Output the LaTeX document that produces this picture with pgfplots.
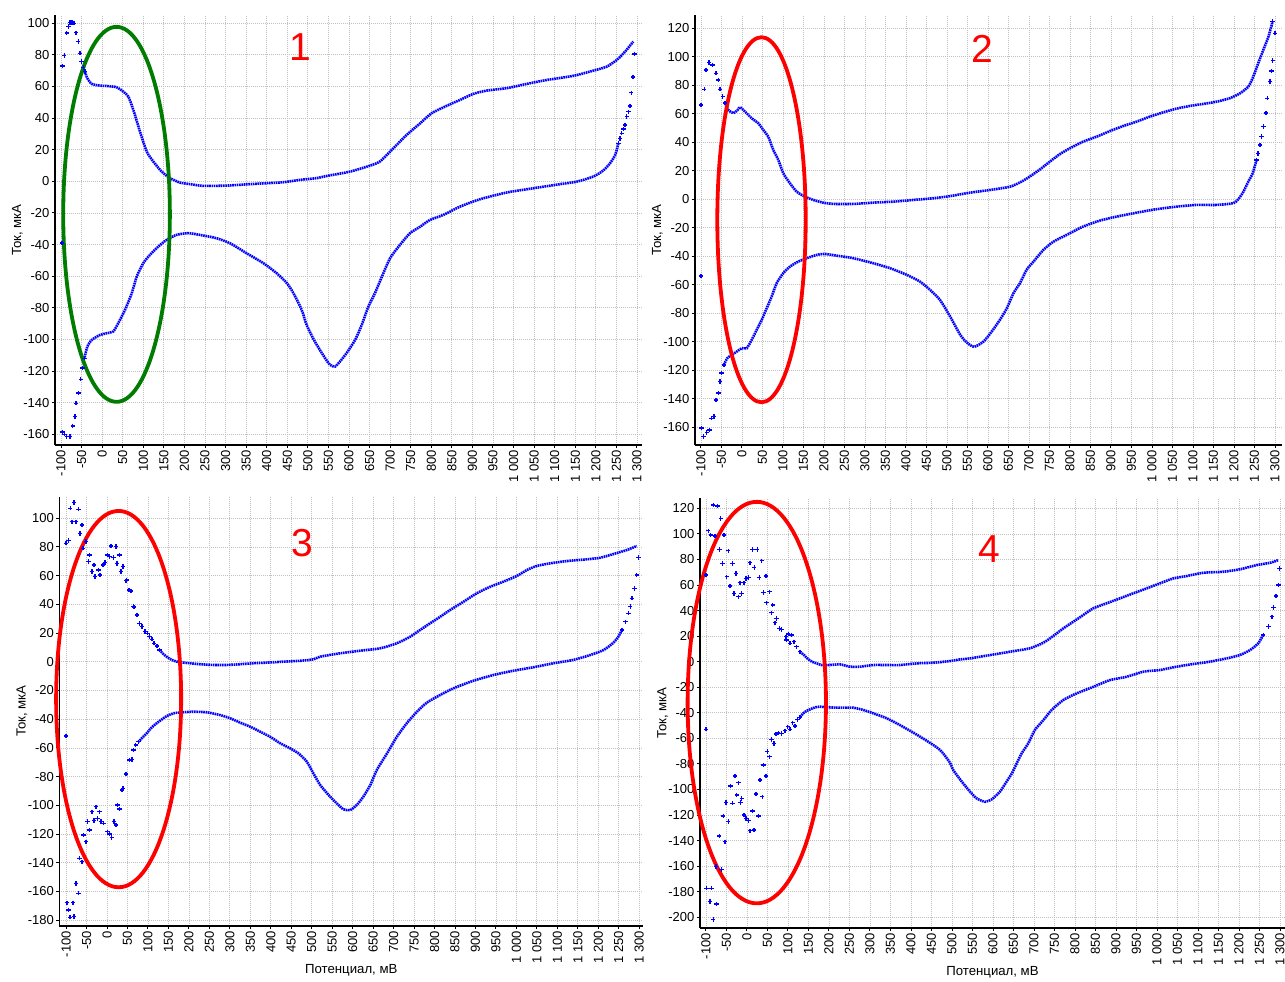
\documentclass[border=0pt]{standalone}
\usepackage{fontspec}
\setmainfont{Liberation Sans}
\usepackage{pgfplots}
\pgfplotsset{compat=1.18}
\definecolor{cvblue}{RGB}{0,0,255}
\definecolor{cvgreen}{RGB}{0,125,0}
\definecolor{cvred}{RGB}{255,0,0}
\tikzset{num/.style={cvred, font=\fontsize{19.5}{20}\selectfont}}
\pgfplotsset{
 cv/.style={
  scale only axis,
  axis x line*=bottom, axis y line*=left,
  axis line style={line width=0.6pt,-},
  tick align=outside, major tick length=1.6pt,
  tick style={line width=0.5pt, black},
  xtick={-100,-50,...,1300},
  grid=major, grid style={gray!50, line width=0.4pt, dash pattern=on 0.5pt off 0.5pt},
  tick label style={font=\fontsize{6.5}{7}\selectfont},
  xticklabel style={rotate=90, anchor=east, inner sep=0.8pt},
  yticklabel style={inner sep=1pt},
  /pgf/number format/assume math mode=true,
  /pgf/number format/1000 sep={\ },
  ylabel={Ток, мкА},
  ylabel style={at={(axis description cs:-0.064,0.5)}, anchor=center},
  xlabel style={at={(axis description cs:0.5,-0.102)}, anchor=center},
  label style={font=\fontsize{6.6}{8}\selectfont},
  clip=false,
 },
 cvline/.style={cvblue, line width=1.3pt, dash pattern=on 0.8pt off 0.35pt, smooth, tension=0.4, mark=none},
 cvmark/.style={cvblue, only marks, mark=+, mark size=1.1pt, mark options={cvblue, line width=0.7pt, solid}},
}
\begin{document}
\begin{tikzpicture}
\useasboundingbox (0,0) rectangle (642.5pt,490.5pt);
% ---------------- Panel 1 ----------------
\begin{axis}[cv, at={(27.5pt,268pt)}, anchor=south west, width=293.5pt, height=215pt,
  xmin=-114.6, xmax=1312.2, ymin=-166.8, ymax=105.2, ytick={-160,-140,...,100}]
\addplot[cvmark] coordinates {(-98,-39) (-96,73) (-92,79.5) (-86,93.7) (-82,98) (-78,100.4) (-73,100.5) (-68,100) (-63.5,94) (-58,88.4) (-54,81) (-50,75.7) (-46,72) (-41.6,69.4)};
\addplot[cvline] coordinates {(-41.6,69.4) (-36,65.2) (-25,61.6) (-5,60.5) (11,60.3) (35,59.5) (51.5,56.7) (63.6,53.6) (75.8,45.2) (92,31.4) (108.4,18.8) (124.4,12.5) (144.8,6.1) (165,2) (189,-0.8) (214,-1.8) (246,-2.9) (303,-2.7) (359,-1.8) (400,-1.2) (440,-0.6) (481,0.9) (521,2) (546,3.4) (602,6.1) (651,9.9) (675,12.5) (700,18.8) (740,29.3) (773,36.7) (801,43.1) (837,47.7) (870,51.5) (902,55.3) (935,57.4) (983,58.9) (1032,61.6) (1081,64.1) (1145,66.7) (1194,70) (1226,72.5) (1251,76.8) (1271,82) (1291,88.4)};
\addplot[cvmark] coordinates {(1293.5,80.6) (1290,66) (1286,56) (1283,47.7) (1279,44) (1275,40.9) (1271,35.7) (1267,33) (1263,30.4) (1259,27) (1255,24.1)};
\addplot[cvline] coordinates {(1255,24.1) (1247,16.7) (1234.5,11.4) (1218,6.8) (1194,3) (1154,-0.2) (1113,-1.8) (1048,-4.4) (983,-7.1) (919,-11.3) (870,-16) (829,-21.3) (797,-24.4) (773,-28.7) (748,-32.9) (724,-40.2) (700,-48.6) (680,-60.3) (663,-70.8) (647,-79.3) (631,-90.8) (615,-100.3) (594,-108.7) (578,-114) (566,-117.2) (554,-116.1) (542,-111.9) (517,-101.4) (497,-90.8) (485,-81.3) (465,-70.8) (449,-64.4) (424,-58.1) (392,-51.8) (351,-45.5) (311,-39.2) (278,-36) (246,-34.3) (210,-32.8) (181,-33.9) (157,-37) (136.5,-41.3) (116,-46.6) (100,-51.8) (84,-60.3) (72,-70.8) (55.6,-81.3) (39,-89.8) (27,-95) (11,-96.1) (-5,-97.2) (-25,-100.3) (-36,-104.5) (-43,-111.9)};
\addplot[cvmark] coordinates {(-43,-111.9) (-48,-118.2) (-52,-125.2) (-57,-134) (-63.5,-140.4) (-66,-148.8) (-71.5,-154.7) (-78,-161.5) (-86,-161.5) (-92,-160) (-96,-158.7)};
\draw[cvgreen, line width=1.9pt] (axis cs:35,-20.9) ellipse [x radius=129.6, y radius=118.6];
\node[num] at (axis cs:481,85) {1};
\end{axis}
% ---------------- Panel 2 ----------------
\begin{axis}[cv, at={(347.5pt,268pt)}, anchor=south west, width=293.5pt, height=215pt,
  xmin=-114.6, xmax=1317.1, ymin=-172.5, ymax=129.3, ytick={-160,-140,...,120}]
\addplot[cvmark] coordinates {(-100,-53.8) (-100,66.2) (-92,77.2) (-88,90.7) (-80,95.9) (-71.5,94.2) (-63.4,88.4) (-57.8,83.7) (-53.7,77.2) (-47,72) (-41.5,67.4)};
\addplot[cvline] coordinates {(-41.5,67.4) (-33.4,62.7) (-21.2,60.4) (-10.5,62.7) (-4.9,64.6) (7.3,61.5) (23.7,56.8) (39.8,53.3) (52,48.6) (64.1,43.9) (76.3,34.6) (88.5,27.6) (100.7,18.2) (117,11.2) (133.4,5.3) (153.7,1.8) (174,-0.5) (198,-2.4) (223,-3.3) (271.5,-3.3) (320,-2.4) (369,-1.7) (418,-0.5) (467,0.7) (510,2.3) (556,4.6) (605,6.5) (654,8.8) (682,12.4) (702,15.9) (727,21) (751,26.4) (776,31.8) (800,35.8) (832,40.4) (865,43.9) (898,47.9) (930,51.4) (963,54.5) (995,58) (1028,61) (1060,63.6) (1093,65.5) (1125,66.9) (1158,68.5) (1190,70.9) (1215,74.4) (1235,79) (1247,86) (1259,95.4) (1271.5,104.8) (1284,114.1) (1294,124.6)};
\addplot[cvmark] coordinates {(1294,124.6) (1300,116.5) (1294.4,97.3) (1291,90) (1288,82.5) (1281,70.9) (1278,60.4) (1271.5,51) (1267,44) (1263.4,38.1) (1259,32) (1255,27.6)};
\addplot[cvline] coordinates {(1255,27.6) (1245.6,18.2) (1235,12.4) (1223,5.3) (1210.5,0) (1198,-2.8) (1158,-4) (1109,-4) (1060,-5.2) (1011,-7) (963,-9.4) (914,-12.2) (873,-15) (832,-19.2) (792,-25) (759.5,-29.8) (735,-35.6) (711,-43.8) (694,-49.6) (678,-58.9) (662,-66) (646,-76.5) (629,-84.7) (609,-92.9) (589,-99.9) (566,-103.6) (548,-100.5) (532,-95) (507,-82) (483,-70.7) (458.5,-63.6) (434,-57.8) (402,-53.1) (361,-48.4) (320,-44.9) (271.5,-41.4) (231,-39.6) (202,-38.4) (182,-39.1) (158,-41.4) (137,-43.8) (117,-47.3) (100.7,-51.9) (84.6,-58.9) (72.4,-68.3) (60.3,-76.5) (48.1,-84.7) (35.9,-91.7) (23.7,-98.7) (11.5,-104.6) (-0.7,-104.6) (-13,-107) (-25.2,-109.3) (-35.9,-111.6) (-44,-116.3)};
\addplot[cvmark] coordinates {(-44,-116.3) (-49.6,-122) (-53.7,-128) (-57,-136.1) (-63.4,-140.8) (-68.3,-152.6) (-73.9,-153.7) (-79.5,-161.9) (-86,-163.8) (-94,-166.6) (-98.4,-160.7)};
\draw[cvred, line width=1.9pt] (axis cs:47.6,-14.4) ellipse [x radius=107.8, y radius=128.1];
\node[num] at (axis cs:586.6,105.5) {2};
\end{axis}
% ---------------- Panel 3 ----------------
\begin{axis}[cv, at={(29.7pt,27.5pt)}, anchor=south west, width=291.9pt, height=214.7pt,
  xmin=-116.4, xmax=1309.7, ymin=-184.1, ymax=115.1, ytick={-180,-160,...,100},
  xlabel={Потенциал, мВ}]
\addplot[cvmark] coordinates {(-100,-51.7) (-100,82.6) (-94.4,84.4) (-90,107) (-80.5,110.9) (-86,97.6) (-75.6,97.6) (-70,106.3) (-65.8,89.5) (-61,95.3) (-59.2,79.1) (-51.1,83.7) (-45.5,69.8) (-43,74.4) (-37.2,62.8) (-31.6,67.5) (-29.1,59.3) (-21,64) (-16.9,60.5) (-10.3,67.5) (-4.7,69.1) (0.9,74.4) (5.8,73.2) (9.9,80.7) (15.6,72.6) (21.4,80.2) (23.9,68.6) (30.2,74.4) (33.6,62.8) (38.5,66.3) (46.6,56.5) (48,57) (53.9,50) (58.8,49.3) (64.4,38.4) (66,38) (72.7,32.6) (79.1,26.8) (84.9,24.5) (93,21) (98.6,19.9) (103.5,17.5) (109.4,15.7) (115,12.9) (121.6,11) (127.9,8.2)};
\addplot[cvline] coordinates {(127.9,8.2) (137.7,5.4) (147.5,3.1) (158.2,1.3) (170.4,0.1) (186.6,-0.6) (203,-1) (227.4,-1.7) (260,-2.2) (292.6,-2.2) (325,-1.7) (357.6,-1) (390,-0.6) (431,0.1) (472,0.7) (504,1.7) (521,3.6) (569,5.9) (618,7.7) (667,9.4) (708,12.9) (740.5,17.5) (765,22.2) (789,26.8) (814,31.4) (838,36.1) (871,41.9) (903,47.7) (936,52.3) (968,55.8) (1001,59.8) (1026,64) (1050,66.8) (1082.5,68.6) (1123,70.2) (1172,71.4) (1205,72.5) (1237,75.1) (1270,77.9) (1294,80.7)};
\addplot[cvmark] coordinates {(1298,72.8) (1294,60.5) (1288,51.2) (1282,44.3) (1278,38.4) (1274,33.8) (1266,27.9) (1258,22.2)};
\addplot[cvline] coordinates {(1258,22.2) (1249,17.5) (1237,13.3) (1213,8.2) (1180,4.7) (1139,1.3) (1091,-1) (1042,-3.8) (993,-6.2) (944,-9.2) (895,-13.2) (846,-18.5) (814,-23.1) (781,-28.5) (757,-34.8) (732,-42.9) (708,-52.2) (684,-63.8) (659,-75.4) (643,-85.9) (626,-94) (610,-99.8) (594,-103.3) (577.5,-102.8) (561,-98.6) (545,-94) (521,-86) (504,-77.7) (488,-69.6) (467.5,-63.8) (447,-60.3) (423,-56.8) (398,-52.2) (374,-48.7) (349.5,-45.2) (325,-42.4) (301,-39.4) (276,-37.1) (244,-35.2) (211,-34.8) (183,-35.2) (162,-35.9) (146,-37.8) (134,-40.1) (123,-42.4) (113,-44.7) (105,-47) (97,-49.8) (87,-52.6) (77,-55.7)};
\addplot[cvmark] coordinates {(77,-55.7) (70,-58) (64.4,-61.5) (60.5,-68) (54.6,-68.4) (46.5,-78.2) (38.5,-88.2) (36.1,-89.3) (25.3,-99.8) (30.2,-102.6) (17.3,-111.4) (22.2,-113.7) (11.6,-122.3) (5.8,-120) (0.9,-118.4) (-8.9,-112.5) (-15.2,-111.4) (-18.6,-104.5) (-23.5,-109.1) (-27.4,-101) (-31.6,-110.7) (-37.2,-104.5) (-43.1,-117.2) (-48,-111.4) (-51.1,-125.4) (-57.7,-120.7) (-61.6,-139.3) (-67.5,-136.9) (-70,-161.3) (-75.6,-154.4) (-80.5,-177.6) (-83.6,-167.9) (-90.2,-178) (-94.4,-173) (-98.3,-167.9)};
\draw[cvred, line width=1.9pt] (axis cs:28.3,-26) ellipse [x radius=152.7, y radius=131.1];
\node[num] at (axis cs:475.9,82.6) {3};
\end{axis}
% ---------------- Panel 4 ----------------
\begin{axis}[cv, at={(350pt,26.5pt)}, anchor=south west, width=292.5pt, height=215pt,
  xmin=-114.6, xmax=1312.2, ymin=-208.4, ymax=128.1, ytick={-200,-180,...,120},
  xlabel={Потенциал, мВ}]
\addplot[cvmark] coordinates {(-100,-52.9) (-100,67.8) (-94.4,102.5) (-88.5,99.1) (-82.2,122.6) (-78,98.3) (-72.4,121.8) (-67.5,87.9) (-64.1,112.2) (-59.3,77) (-56.1,99.1) (-49.5,66.5) (-45.6,86.8) (-41.5,59.2) (-34.9,77) (-31.7,53.5) (-26.8,69.1) (-21.2,50.8) (-17.1,61.8) (-13,53.5) (-7.3,61.8) (-2.4,65.2) (3.2,66) (7.3,77.4) (13.9,87.9) (17.8,73.8) (25.1,87.9) (30,66) (35.9,79) (39.8,54) (46.3,67) (48,46.1) (54.4,54.7) (60.2,38.3) (62.7,44.3) (68.3,30.5) (72.4,33.9) (78.8,26.1) (84.6,25.3) (95.1,19.5) (100.7,21.6) (109,20.9) (96.8,17) (104.9,14.4) (114.6,15.6) (121.2,11.7) (129.3,7.8)};
\addplot[cvline] coordinates {(129.3,7.8) (139,5.2) (147,2.6) (158,0) (170,-1.3) (182,-2.6) (202,-2.6) (227,-2.1) (251,-3.9) (276,-3.9) (308,-2.6) (341,-2.6) (373,-2.6) (414,-1.3) (454.5,-0.8) (495,0.5) (520,1.8) (544,2.6) (593,5.2) (641.5,7.8) (690,10.5) (723,14.9) (747,20.1) (771.5,26.1) (796,31.3) (820,36.5) (845,41.8) (877,45.7) (910,49.6) (942,53.5) (975,57.4) (1007,61.3) (1040,65.2) (1072,67) (1113,69.6) (1162,70.4) (1202,72.3) (1243,75.6) (1276,77.4) (1296,79.5)};
\addplot[cvmark] coordinates {(1298.3,73) (1296,60) (1290,51.4) (1284,42.5) (1280,35.2) (1271.5,27.4) (1259,20.9)};
\addplot[cvline] coordinates {(1259,20.9) (1247,14.4) (1227,9.1) (1202,5.2) (1170,2.6) (1129,0) (1088.5,-1.8) (1048,-3.9) (1007,-6.5) (967,-7.8) (926,-11.8) (885,-14.4) (845,-19.6) (804,-24.8) (771.5,-30) (743,-37.8) (723,-45.7) (702,-53.5) (686,-63.9) (670,-71.7) (658,-79.5) (646,-87.4) (633,-93.9) (617,-101.7) (597,-107.7) (580.5,-109.6) (560,-106.9) (544,-101.7) (524,-93.9) (503,-84.8) (495,-79) (471,-69.1) (438,-61.8) (406,-55.6) (373,-49.6) (341,-44.3) (308,-40.4) (284,-37.8) (259,-36) (227,-36) (194,-35.7) (178,-35.2) (166,-35.7) (154,-37.3) (146,-38.4) (137,-40.4) (129.3,-43.5)};
\addplot[cvmark] coordinates {(129.3,-43.5) (122.7,-45.1) (117.1,-50.3) (111.5,-47.8) (104.9,-52.9) (99.3,-50.9) (92.7,-54) (84.6,-56.1) (76.3,-55.6) (70.7,-56.6) (65.9,-63.9) (60.2,-60.8) (54.4,-74.4) (49.5,-70.4) (46.3,-89.5) (39.8,-80.9) (37.3,-105.7) (31.7,-92.6) (27.6,-120.7) (22,-103.5) (17.1,-131.7) (13,-116.9) (7.3,-132.3) (3.2,-124.4) (-2.4,-122.6) (-7.3,-120) (-12.9,-106.9) (-15.4,-110.3) (-21.2,-94.7) (-25.1,-104.3) (-29.3,-89.5) (-34.9,-110.8) (-39.8,-97.3) (-45.6,-125.2) (-51.2,-110.3) (-53.7,-140.9) (-57.8,-120.7) (-61.7,-162.5) (-67.6,-136.4) (-74,-189.6) (-75.6,-160.4) (-82.2,-201.6) (-86.1,-177.3) (-90.2,-187.8) (-98.4,-177.3)};
\draw[cvred, line width=1.9pt] (axis cs:23.9,-32) ellipse [x radius=168.7, y radius=157.1];
\node[num] at (axis cs:590.2,88.2) {4};
\end{axis}
\end{tikzpicture}
\end{document}
